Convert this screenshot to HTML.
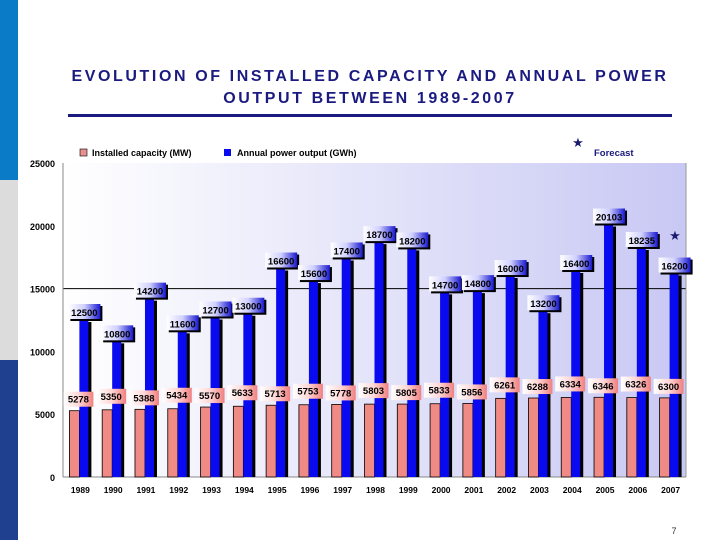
<!DOCTYPE html>
<html><head><meta charset="utf-8"><style>
body{margin:0;width:720px;height:540px;overflow:hidden;background:#fff;font-family:"Liberation Sans",sans-serif;position:relative}
#title{position:absolute;left:20px;width:700px;top:66px;text-align:center;color:#1a1a80;font-weight:bold;font-size:16px;letter-spacing:2.6px;line-height:22px}
</style></head><body>
<div style="position:absolute;left:0;top:0;width:18px;height:180px;background:#0a7bc6"></div>
<div style="position:absolute;left:0;top:180px;width:18px;height:180px;background:#dcdcdc"></div>
<div style="position:absolute;left:0;top:360px;width:18px;height:180px;background:#1f3f8f"></div>
<div id="title">EVOLUTION OF INSTALLED CAPACITY AND ANNUAL POWER<br>OUTPUT BETWEEN 1989-2007</div>
<div style="position:absolute;left:68px;top:114px;width:604px;height:3px;background:#1a1a80"></div>
<svg id="chart" width="720" height="540" style="position:absolute;left:0;top:0">
<defs>
<linearGradient id="bg" x1="0" x2="1"><stop offset="0" stop-color="#ffffff"/><stop offset="1" stop-color="#c8c8f4"/></linearGradient>
<linearGradient id="lb" x1="0" x2="1"><stop offset="0" stop-color="#ffffff"/><stop offset="0.5" stop-color="#d0d0ff"/><stop offset="1" stop-color="#1818d0"/></linearGradient>
<linearGradient id="lp" x1="0" x2="1"><stop offset="0" stop-color="#ffffff"/><stop offset="0.5" stop-color="#ffd8d8"/><stop offset="1" stop-color="#f08080"/></linearGradient>
</defs>
</svg>
<script>
const years=["1989","1990","1991","1992","1993","1994","1995","1996","1997","1998","1999","2000","2001","2002","2003","2004","2005","2006","2007"];
const capacity=[5278,5350,5388,5434,5570,5633,5713,5753,5778,5803,5805,5833,5856,6261,6288,6334,6346,6326,6300];
const output=[12500,10800,14200,11600,12700,13000,16600,15600,17400,18700,18200,14700,14800,16000,13200,16400,20103,18235,16200];
const yTicks=[0,5000,10000,15000,20000,25000];
const NS="http://www.w3.org/2000/svg";
const svg=document.getElementById('chart');
const L=63,R=686,T=163,B=477,maxV=25000;
const bw=(R-L)/years.length;
const y=v=>B-(v/maxV)*(B-T);
const x=i=>L+bw*(i+0.5);
function mk(t,a,p){const e=document.createElementNS(NS,t);for(const k in a)e.setAttribute(k,a[k]);(p||svg).appendChild(e);return e;}
let e=mk('rect',{x:L,y:T,width:R-L,height:B-T,fill:'url(#bg)'});


e=mk('line',{x1:L,x2:R,y1:y(15000),y2:y(15000),stroke:'#000','stroke-width':1});


e=mk('line',{x1:L,x2:L,y1:T,y2:B,stroke:'#888'});


e=mk('line',{x1:L,x2:R,y1:B,y2:B,stroke:'#888'});


e=mk('line',{x1:R,x2:R,y1:T,y2:B,stroke:'#999'});


yTicks.forEach(v=>{
 const t=mk('text',{x:L-8,y:y(v)+4,'text-anchor':'end','font-size':9,'font-weight':'bold',fill:'#000'});
 t.textContent=v;
 
 
});
years.forEach((yr,i)=>{
 const cx=x(i);
 let r=mk('rect',{x:cx-10,y:y(capacity[i]),width:10,height:B-y(capacity[i]),fill:'#f08a84',stroke:'#000','stroke-width':0.8});
 
 
 let s=mk('rect',{x:cx+2,y:y(output[i])+2,width:10,height:B-y(output[i])-2,fill:'#000'});
 
 
 r=mk('rect',{x:cx,y:y(output[i]),width:9,height:B-y(output[i]),fill:'#0a0af0'});
 
 
 const lw=32,lh=15;
 let g=mk('g',{});
 
 
 mk('rect',{x:cx+5-lw/2+2,y:y(output[i])-lh+1,width:lw,height:lh,fill:'#000'},g);
 mk('rect',{x:cx+5-lw/2,y:y(output[i])-lh-1,width:lw,height:lh,fill:'url(#lb)'},g);
 let t=mk('text',{x:cx+5,y:y(output[i])-4,'text-anchor':'middle','font-size':9.5,'font-weight':'bold',fill:'#000'},g);
 t.textContent=output[i];
 g=mk('g',{});
 
 
 const ly=y(capacity[i])-4-(i%2?2:0);
 mk('rect',{x:cx-lw/2,y:ly-lh,width:lw-2,height:lh,fill:'url(#lp)'},g);
 t=mk('text',{x:cx-1,y:ly-4,'text-anchor':'middle','font-size':9.5,'font-weight':'bold',fill:'#000'},g);
 t.textContent=capacity[i];
 t=mk('text',{x:cx+1,y:B+16,'text-anchor':'middle','font-size':8.5,'font-weight':'bold',fill:'#000'});
 t.textContent=yr;
 
 
});
let lg=mk('g',{});


mk('rect',{x:80,y:149,width:7,height:7,fill:'#e89090',stroke:'#000','stroke-width':0.6},lg);
let lt=mk('text',{x:92,y:156,'font-size':9,'font-weight':'bold',fill:'#000'},lg);lt.textContent='Installed capacity (MW)';
lg=mk('g',{});


mk('rect',{x:224,y:149,width:7,height:7,fill:'#0a0af0'},lg);
lt=mk('text',{x:237,y:156,'font-size':9,'font-weight':'bold',fill:'#000'},lg);lt.textContent='Annual power output (GWh)';
lt=mk('text',{x:578,y:147,'text-anchor':'middle','font-size':13,fill:'#1a1a70'});lt.textContent='★';


lt=mk('text',{x:594,y:156,'font-size':9.5,'font-weight':'bold',fill:'#1a1a80'});lt.textContent='Forecast';


lt=mk('text',{x:675,y:240,'text-anchor':'middle','font-size':13,fill:'#1a1a70'});lt.textContent='★';


lt=mk('text',{x:674,y:534,'text-anchor':'middle','font-size':9,fill:'#333'});lt.textContent='7';


</script>
</body></html>
